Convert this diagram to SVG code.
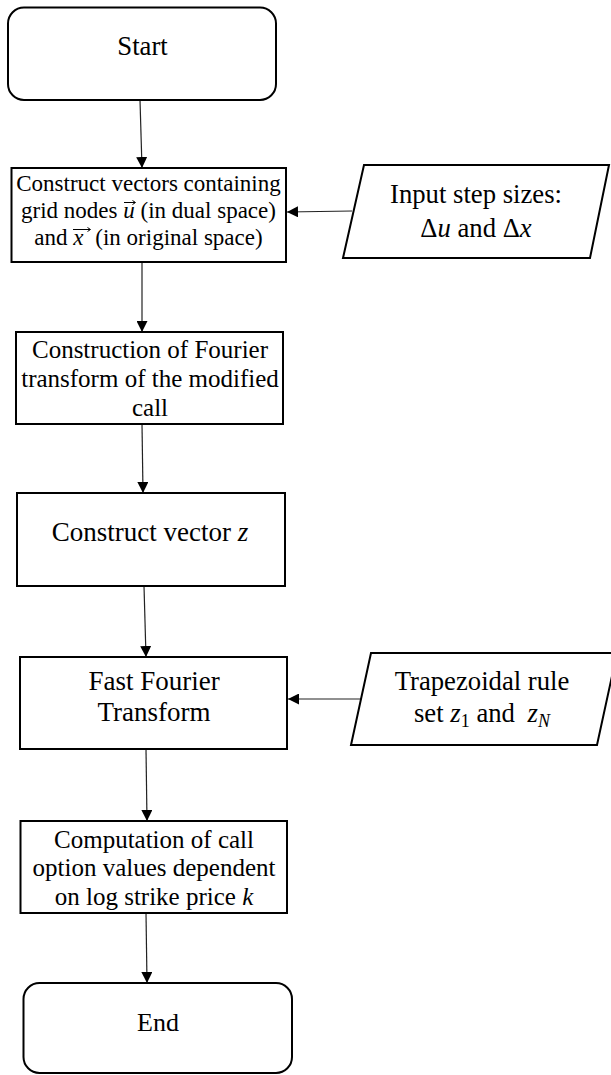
<svg xmlns="http://www.w3.org/2000/svg" width="611" height="1075" viewBox="0 0 611 1075">
<style>
.box{fill:#fff;stroke:#000;stroke-width:2}
.t{font-family:"Liberation Serif","Times New Roman",serif;fill:#000;text-anchor:middle}
.i{font-style:italic}
.c{stroke:#222;stroke-width:1.2;fill:none;marker-end:url(#ah)}
.acc{stroke:#000;stroke-width:1;fill:none}
</style>
<defs>
<marker id="ah" markerUnits="userSpaceOnUse" markerWidth="11" markerHeight="11" refX="11" refY="5.5" orient="auto" viewBox="0 0 11 11">
<path d="M0,0 L11,5.5 L0,11 z" fill="#000"/>
</marker>
</defs>
<rect width="611" height="1075" fill="#fff"/>
<g id="connectors">
<line class="c" x1="140" y1="100" x2="142" y2="168"/>
<line class="c" x1="352" y1="211" x2="287" y2="212"/>
<line class="c" x1="142" y1="262" x2="142" y2="332"/>
<line class="c" x1="142" y1="424" x2="143" y2="493"/>
<line class="c" x1="144" y1="586" x2="146" y2="657"/>
<line class="c" x1="361" y1="699" x2="288" y2="699"/>
<line class="c" x1="146" y1="749" x2="147" y2="821"/>
<line class="c" x1="146" y1="913" x2="147" y2="983"/>
</g>
<g id="start">
<rect class="box" x="8" y="7.5" width="268" height="92.5" rx="16"/>
<text class="t" x="142.5" y="55" font-size="26.7">Start</text>
</g>
<g id="construct-grid">
<rect class="box" x="11.5" y="168" width="274.5" height="94"/>
<text class="t" x="148.5" y="191" font-size="23">Construct vectors containing</text>
<text class="t" x="148.5" y="218" font-size="23">grid nodes <tspan class="i">u</tspan> (in dual space)</text>
<text class="t" x="148.5" y="245" font-size="23">and <tspan class="i">x</tspan><tspan dx="6"> (in original space)</tspan></text>
<path class="acc" d="M124,202.5 H135 M132.5,200.5 L135.5,202.5 L132.5,204.5"/>
<path class="acc" d="M73,229.5 H90 M87.5,227.5 L90.5,229.5 L87.5,231.5"/>
</g>
<g id="input-steps">
<polygon class="box" points="364,165 609,165 590,258 343,258"/>
<text class="t" x="476" y="203" font-size="26.7">Input step sizes:</text>
<text class="t" x="476" y="237" font-size="26.7">Δ<tspan class="i">u</tspan> and Δ<tspan class="i">x</tspan></text>
</g>
<g id="fourier-transform">
<rect class="box" x="16" y="332" width="267" height="92"/>
<text class="t" x="150" y="358" font-size="25">Construction of Fourier</text>
<text class="t" x="150" y="387" font-size="25">transform of the modified</text>
<text class="t" x="150" y="416" font-size="25">call</text>
</g>
<g id="construct-z">
<rect class="box" x="17" y="493" width="268" height="93"/>
<text class="t" x="150" y="541" font-size="27">Construct vector <tspan class="i">z</tspan></text>
</g>
<g id="fft">
<rect class="box" x="20" y="657" width="267" height="92"/>
<text class="t" x="154" y="690" font-size="27">Fast Fourier</text>
<text class="t" x="154" y="721" font-size="27">Transform</text>
</g>
<g id="trapezoidal">
<polygon class="box" points="371,653 617,653 597,745 351,745"/>
<text class="t" x="482" y="690" font-size="26.7">Trapezoidal rule</text>
<text class="t" x="482" y="722" font-size="26.7">set <tspan class="i">z</tspan><tspan font-size="18" dy="5">1</tspan><tspan dy="-5"> and </tspan><tspan class="i" dx="6">z</tspan><tspan class="i" font-size="18" dy="5">N</tspan></text>
</g>
<g id="computation">
<rect class="box" x="20.5" y="821" width="266.5" height="92"/>
<text class="t" x="154" y="848" font-size="25">Computation of call</text>
<text class="t" x="154" y="876" font-size="25">option values dependent</text>
<text class="t" x="154" y="905" font-size="25">on log strike price <tspan class="i">k</tspan></text>
</g>
<g id="end">
<rect class="box" x="23.5" y="983" width="268.5" height="90" rx="16"/>
<text class="t" x="158" y="1031" font-size="26">End</text>
</g>
</svg>
